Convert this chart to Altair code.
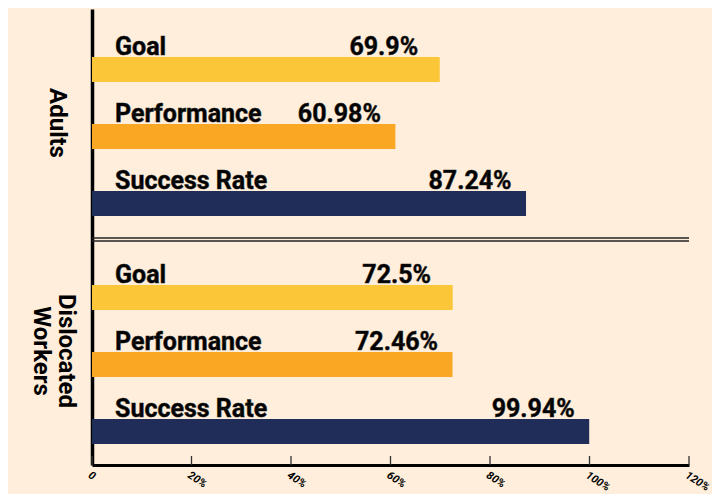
import altair as alt
import pandas as pd

groups = ["Adults", "Adults", "Adults",
          "Dislocated Workers", "Dislocated Workers", "Dislocated Workers"]
metrics = ["Goal", "Performance", "Success Rate",
           "Goal", "Performance", "Success Rate"]
values = [69.9, 60.98, 87.24, 72.5, 72.46, 99.94]
x_ticks = [0, 20, 40, 60, 80, 100, 120]
group_order = ["Adults", "Dislocated Workers"]
metric_order = ["Goal", "Performance", "Success Rate"]
metric_colors = ["#FBC638", "#FAA823", "#1F2D58"]

df = pd.DataFrame({"group": groups, "metric": metrics, "value": values})
tick_df = pd.DataFrame({"t": x_ticks})
sep_df = pd.DataFrame({"g": ["Dislocated Workers"]})

BG = "#FEEEDB"
FONT = "Roboto"
W = 597
H = 456

x_scale = alt.Scale(domain=[0, 120], nice=False)
y_scale = alt.Scale(domain=group_order, paddingInner=0, paddingOuter=0)
yo_scale = alt.Scale(domain=metric_order, paddingInner=0, paddingOuter=0.2015, align=1)

y_axis = alt.Axis(
    title=None, ticks=False, tickSize=0, domainColor="#000", domainWidth=3.5,
    labelAngle=90, labelAlign="center", labelBaseline="middle",
    labelFont=FONT, labelFontSize=24, labelFontWeight="bold", labelColor="#000",
    labelPadding={"condition": {"test": "datum.value == 'Adults'", "value": 36},
                  "value": 27},
    labelLineHeight=25, labelOffset=0,
    labelExpr="split(datum.label, ' ')",
)
x_axis = alt.Axis(
    values=x_ticks, ticks=False, grid=False, domainColor="#000",
    domainWidth=3, labelAngle=33, labelAlign="left", labelBaseline="top",
    labelFont=FONT, labelFontSize=11, labelFontWeight="bold",
    labelFontStyle="italic", labelColor="#000", labelPadding=4,
    labelExpr="datum.value == 0 ? '0' : datum.value + '%'",
    labelOverlap=False, labelFlush=False, title=None,
)

base = alt.Chart(df)
Y = alt.Y("group:N", sort=group_order, scale=y_scale, axis=y_axis)
YO = alt.YOffset("metric:N", sort=metric_order, scale=yo_scale)

bars = base.mark_bar(size=25).encode(
    x=alt.X("value:Q", scale=x_scale, axis=x_axis),
    y=Y, yOffset=YO,
    color=alt.Color("metric:N", scale=alt.Scale(domain=metric_order, range=metric_colors),
                    legend=None),
)

text_style = dict(baseline="alphabetic", dy=-15, font=FONT, fontSize=25,
                  fontWeight="bold", color="#000", stroke="#222", strokeWidth=0.5)

cat_labels = base.mark_text(align="left", dx=23, **text_style).encode(
    x=alt.datum(0), y=Y, yOffset=YO, text="metric:N"
)
val_labels = base.transform_calculate(lab="datum.value + '%'").mark_text(
    align="center", dx=-56, **text_style
).encode(x="value:Q", y=Y, yOffset=YO, text="lab:N")

sep1 = alt.Chart(sep_df).mark_rule(color="#222", strokeWidth=1.3, yOffset=1).encode(
    x=alt.datum(0), x2=alt.datum(120),
    y=alt.Y("g:N", sort=group_order, bandPosition=0),
)
sep2 = alt.Chart(sep_df).mark_rule(color="#222", strokeWidth=1.3, yOffset=4).encode(
    x=alt.datum(0), x2=alt.datum(120),
    y=alt.Y("g:N", sort=group_order, bandPosition=0),
)

tick_rules = alt.Chart(tick_df).mark_rule(color="#333", strokeWidth=1.3).encode(
    x="t:Q", y=alt.value(H - 9), y2=alt.value(H)
)

chart = alt.layer(bars, cat_labels, val_labels, sep1, sep2, tick_rules).properties(
    width=W, height=H,
    autosize=alt.AutoSizeParams(type="none"),
    padding={"left": 84, "top": 1, "right": 23, "bottom": 29},
).configure(background=BG).configure_view(stroke=None)

chart.save("out.html", embed_options={"renderer": "svg", "actions": False})
